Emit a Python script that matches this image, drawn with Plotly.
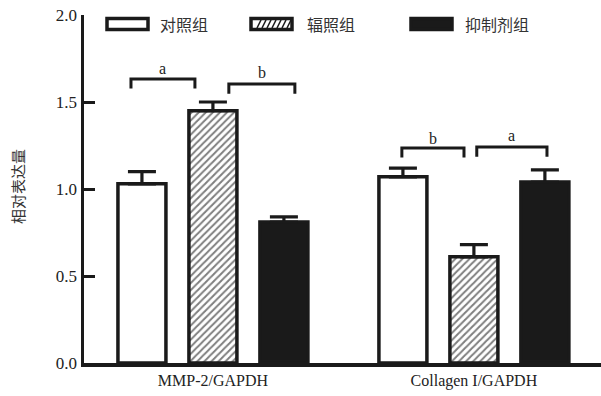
import plotly.graph_objects as go

# ---------------- data ----------------
categories = ["MMP-2/GAPDH", "Collagen I/GAPDH"]
series_names = ["对照组", "辐照组", "抑制剂组"]
control = [1.03, 1.07]
control_err = [0.07, 0.05]
irradiated = [1.45, 0.61]
irradiated_err = [0.05, 0.07]
inhibitor = [0.81, 1.04]
inhibitor_err = [0.03, 0.07]
y_ticks = [0.0, 0.5, 1.0, 1.5, 2.0]
y_title = "相对表达量"

# significance brackets: (x0, x1, y, label_y, label)
sig_brackets = [
    (-0.314, -0.069, 1.632, 1.69, "a"),
    (0.061, 0.314, 1.603, 1.667, "b"),
    (0.724, 0.962, 1.236, 1.293, "b"),
    (1.011, 1.280, 1.241, 1.31, "a"),
]

SERIF = "Liberation Serif, Noto Serif CJK SC, Noto Sans CJK SC, serif"
CJK = "Noto Sans CJK SC, Liberation Serif, serif"

L, R, T, B = 84, 0, 15, 33
W, H = 601, 396
PW, PH = W - L - R, H - T - B


def px(xp):
    return (xp - L) / PW


def py(yp):
    return (H - B - yp) / PH


fig = go.Figure()

styles = [
    dict(color="white", pattern=None),
    dict(color="white", pattern=dict(shape="/", fgcolor="#000000", bgcolor="white", size=5, solidity=0.4)),
    dict(color="#1a1a1a", pattern=None),
]
vals = [control, irradiated, inhibitor]
errs = [control_err, irradiated_err, inhibitor_err]

for name, v, e, st in zip(series_names, vals, errs, styles):
    marker = dict(color=st["color"], line=dict(color="#1a1a1a", width=3.5))
    if st["pattern"]:
        marker["pattern"] = st["pattern"]
    fig.add_trace(go.Bar(
        x=categories, y=v, name=name, marker=marker,
        error_y=dict(type="data", array=e, arrayminus=[0] * len(e), symmetric=False,
                     color="#1a1a1a", thickness=3.2, width=14),
        showlegend=False, hoverinfo="skip",
    ))

shapes = []
annotations = []

# brackets
for x0, x1, y, ly, lab in sig_brackets:
    drop = 0.055
    shapes.append(dict(type="path", xref="x", yref="y",
                       path=f"M {x0},{y - drop} L {x0},{y} L {x1},{y} L {x1},{y - drop}",
                       line=dict(color="#1a1a1a", width=3)))
    annotations.append(dict(x=(x0 + x1) / 2, y=ly, xref="x", yref="y", text=lab,
                            showarrow=False, font=dict(family=SERIF, size=16, color="#222"),
                            xanchor="center", yanchor="middle"))

# custom legend
leg_boxes = [(107, 148), (251, 292), (411, 452)]
leg_text_x = [158, 305, 463]
y0p, y1p = 18.5, 29.5
for i, ((bx0, bx1), tx) in enumerate(zip(leg_boxes, leg_text_x)):
    fill = "#1a1a1a" if i == 2 else "white"
    shapes.append(dict(type="rect", xref="paper", yref="paper",
                       x0=px(bx0), x1=px(bx1), y0=py(y1p), y1=py(y0p),
                       fillcolor=fill, line=dict(color="#1a1a1a", width=3.5)))
    if i == 1:
        for k in range(7):
            sx = bx0 + 6 + k * 5
            shapes.append(dict(type="line", xref="paper", yref="paper",
                               x0=px(sx), x1=px(sx + 4), y0=py(y1p - 1.5), y1=py(y0p + 1.5),
                               line=dict(color="#1a1a1a", width=1.5)))
    annotations.append(dict(x=px(tx), y=py(24), xref="paper", yref="paper",
                            text=series_names[i], showarrow=False, xanchor="left", yanchor="middle",
                            font=dict(family=CJK, size=16, color="#333")))

# y title
annotations.append(dict(x=px(18), y=py(187), xref="paper", yref="paper", text=y_title,
                        textangle=-90, showarrow=False, xanchor="center", yanchor="middle",
                        font=dict(family=CJK, size=15, color="#333")))

fig.update_layout(
    width=W, height=H,
    margin=dict(l=L, r=R, t=T, b=B),
    paper_bgcolor="white", plot_bgcolor="white",
    barmode="group", bargap=0.184, bargroupgap=0.324,
    shapes=shapes, annotations=annotations,
    showlegend=False, hovermode=False,
)
fig.update_xaxes(
    type="category", range=[-0.494, 1.487],
    showline=True, linecolor="#1a1a1a", linewidth=3.5,
    ticks="", showgrid=False, zeroline=False,
    tickfont=dict(family=SERIF, size=16, color="#222"),
)
fig.update_yaxes(
    range=[0, 2.0], tickvals=y_ticks, ticktext=[f"{t:.1f}" for t in y_ticks],
    showline=True, linecolor="#1a1a1a", linewidth=3.5,
    ticks="inside", ticklen=11, tickwidth=3, tickcolor="#1a1a1a",
    showgrid=False, zeroline=False,
    tickfont=dict(family=SERIF, size=17, color="#222"),
)

fig.write_html("out.html", config={"displayModeBar": False, "staticPlot": True},
               post_script="document.body.style.margin='0';document.body.style.overflow='hidden';")
